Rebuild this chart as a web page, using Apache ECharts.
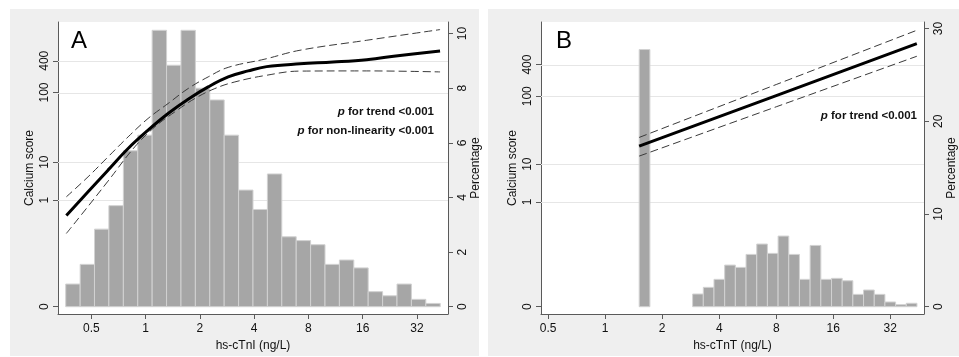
<!DOCTYPE html>
<html>
<head>
<meta charset="utf-8">
<script src="https://cdn.jsdelivr.net/npm/echarts@6/dist/echarts.min.js"></script>
<style>
  html, body { margin: 0; padding: 0; background: #fff; }
  #chart { width: 959px; height: 357px; }
</style>
</head>
<body>
<div id="chart"></div>
<script>
// x ticks (ng/L, log2 axis) and left / right tick labels
const xTicks = [0.5, 1, 2, 4, 8, 16, 32];
const cacTicks = [0, 1, 10, 100, 400];
const pctTicksA = [0, 2, 4, 6, 8, 10];
const pctTicksB = [0, 10, 20, 30];

// panel A: hs-cTnI histogram, bin edges (ng/L) and percent per bin
const histAEdges = [0.360, 0.433, 0.520, 0.625, 0.752, 0.904, 1.086, 1.306, 1.570, 1.887, 2.268, 2.726, 3.277, 3.939,
  4.735, 5.691, 6.841, 8.223, 9.884, 11.88, 14.28, 17.16, 20.63, 24.80, 29.81, 35.83, 43.07];
const histAPct = [0.83, 1.55, 2.84, 3.70, 5.71, 6.28, 10.12, 8.84, 10.12, 8.0, 7.57, 6.28, 4.27, 3.56,
  4.86, 2.56, 2.42, 2.27, 1.55, 1.71, 1.42, 0.55, 0.40, 0.83, 0.27, 0.12];

// panel A: spline fit of calcium score with 95% CI
const fitAX = [0.363, 0.479, 0.618, 0.799, 1.031, 1.332, 1.720, 2.222, 2.869, 3.705, 4.69, 7.18, 10.94, 16.84, 25.77, 42.98];
const fitAY = [0.81, 1.90, 6.68, 16.0, 29.5, 50.8, 80.6, 128, 198, 257, 310, 350, 378, 420, 505, 613];
const upAX = [0.363, 0.479, 0.618, 0.799, 1.031, 1.332, 1.720, 2.222, 2.869, 4.589, 7.18, 16.84, 42.98];
const upAY = [1.32, 4.69, 12.0, 23.6, 43.2, 70.2, 119, 198, 300, 430, 632, 975, 1550];
const loAX = [0.363, 0.479, 0.618, 0.870, 1.124, 1.451, 1.874, 2.420, 3.125, 4.589, 7.18, 16.84, 42.98];
const loAY = [0.61, 0.92, 3.69, 16.9, 32.8, 53.5, 82.4, 119, 159, 210, 255, 257, 246];

// panel B: hs-cTnT histogram
const histBEdges = [1.512, 1.722, 1.961, 2.233, 2.543, 2.895, 3.297, 3.754, 4.275, 4.868, 5.543, 6.312, 7.187, 8.184,
  9.319, 10.61, 12.08, 13.76, 15.67, 17.84, 20.31, 23.13, 26.34, 29.99, 34.15, 38.89, 44.28];
const histBPct = [27.74, 0, 0, 0, 0, 1.37, 2.09, 2.95, 4.49, 4.24, 5.64, 6.76, 5.75, 7.62, 5.64, 2.95, 6.61, 2.95,
  3.06, 2.80, 1.33, 1.80, 1.33, 0.51, 0.22, 0.37];

// panel B: linear fit with 95% CI
const fitBX = [1.511, 8, 44.2];
const fitBY = [18.8, 103, 998];
const upBY = [25.3, 167, 1782];
const loBY = [13.3, 70.5, 574];

// where the calcium score labels sit on each panel's scale
const cacPosA = [0, 3.903, 5.293, 7.842, 9.005];
const cacPosB = [0, 11.315, 15.377, 22.705, 26.121];

const FONT = '"Liberation Sans", Arial, sans-serif';
const AXIS_COLOR = '#5a5a5a';

function cacToPos(c, pos) {
  const L = cacTicks.map(t => Math.log1p(t));
  const v = Math.log1p(c);
  let i = 0;
  while (i < L.length - 2 && v > L[i + 1]) i++;
  return pos[i] + (v - L[i]) / (L[i + 1] - L[i]) * (pos[i + 1] - pos[i]);
}

function xAxis(grid, min, max, name) {
  const vals = xTicks.map(Math.log2);
  return {
    type: 'value', gridIndex: grid, min, max,
    name, nameLocation: 'middle', nameGap: 21,
    nameTextStyle: { color: '#111', fontSize: 12, fontFamily: FONT },
    axisLine: { show: true, onZero: false, lineStyle: { color: AXIS_COLOR, width: 1 } },
    axisTick: { show: true, customValues: vals, length: 5, lineStyle: { color: AXIS_COLOR } },
    axisLabel: {
      customValues: vals, margin: 9, color: '#111', fontSize: 12, fontFamily: FONT,
      formatter: v => String(Math.round(Math.pow(2, v) * 100) / 100)
    },
    splitLine: { show: false }
  };
}

function leftAxis(grid, min, max, pos) {
  return {
    type: 'value', gridIndex: grid, position: 'left', min, max,
    name: 'Calcium score', nameLocation: 'middle', nameGap: 22, nameRotate: 90,
    nameTextStyle: { color: '#111', fontSize: 12, fontFamily: FONT },
    axisLine: { show: true, onZero: false, lineStyle: { color: AXIS_COLOR } },
    axisTick: { show: true, customValues: pos, length: 5, lineStyle: { color: AXIS_COLOR } },
    axisLabel: {
      customValues: pos, rotate: 90, margin: 7, color: '#111', fontSize: 12, fontFamily: FONT,
      formatter: v => {
        let k = 0;
        pos.forEach((p, i) => { if (Math.abs(p - v) < Math.abs(pos[k] - v)) k = i; });
        return String(cacTicks[k]);
      }
    },
    splitLine: { show: false }
  };
}

function rightAxis(grid, min, max, ticks) {
  return {
    type: 'value', gridIndex: grid, position: 'right', min, max,
    name: 'Percentage', nameLocation: 'middle', nameGap: 22, nameRotate: 90,
    nameTextStyle: { color: '#111', fontSize: 12, fontFamily: FONT },
    axisLine: { show: true, onZero: false, lineStyle: { color: AXIS_COLOR } },
    axisTick: { show: true, customValues: ticks, length: 5, lineStyle: { color: AXIS_COLOR } },
    axisLabel: { customValues: ticks, rotate: 90, margin: 9, color: '#111', fontSize: 12, fontFamily: FONT },
    splitLine: { show: false }
  };
}

function histSeries(edges, pct, xi, yi) {
  return {
    type: 'custom', xAxisIndex: xi, yAxisIndex: yi, z: 2, silent: true,
    encode: { x: [0, 1], y: 2 },
    data: pct.map((p, i) => [Math.log2(edges[i]), Math.log2(edges[i + 1]), p]).filter(d => d[2] > 0),
    renderItem(params, api) {
      const a = api.coord([api.value(0), api.value(2)]);
      const b = api.coord([api.value(1), 0]);
      return {
        type: 'rect',
        shape: { x: a[0], y: a[1], width: b[0] - a[0], height: b[1] - a[1] },
        style: { fill: '#a6a6a6', stroke: '#d2d2d2', lineWidth: 1 }
      };
    }
  };
}

function curve(xs, ys, pos, xi, yi, dashed, smooth) {
  return {
    type: 'line', xAxisIndex: xi, yAxisIndex: yi, z: 3, symbol: 'none', silent: true,
    smooth: smooth,
    data: xs.map((x, i) => [Math.log2(x), cacToPos(ys[i], pos)]),
    lineStyle: dashed
      ? { color: '#3a3a3a', width: 1, type: [8, 4] }
      : { color: '#000', width: 3 }
  };
}

// faint horizontal rules at the calcium score ticks (across the whole plot)
function gridLines(pos, xi, yi, xMin) {
  return {
    type: 'custom', xAxisIndex: xi, yAxisIndex: yi, z: 1, silent: true,
    encode: { x: 0, y: 1 },
    data: pos.slice(1).map(v => [xMin, v]),
    renderItem(params, api) {
      const cs = params.coordSys;
      const y = Math.round(api.coord([api.value(0), api.value(1)])[1]) + 0.5;
      return {
        type: 'line',
        shape: { x1: cs.x, y1: y, x2: cs.x + cs.width, y2: y },
        style: { stroke: '#e6e6e6', lineWidth: 1 }
      };
    }
  };
}

const pStyle = {
  p: { fontStyle: 'italic', fontWeight: 'bold', fontSize: 11.5, fontFamily: FONT, fill: '#111' }
};

function note(x, y, text) {
  return {
    type: 'text', x, y, z: 100, silent: true,
    style: {
      text, rich: pStyle, fill: '#111', align: 'right', verticalAlign: 'middle',
      font: 'bold 11.5px ' + FONT
    }
  };
}

const chart = echarts.init(document.getElementById('chart'));
chart.setOption({
  animation: false,
  backgroundColor: '#fff',
  graphic: [
    { type: 'rect', z: -100, shape: { x: 10, y: 9, width: 469, height: 347 }, style: { fill: '#efefef' } },
    { type: 'rect', z: -100, shape: { x: 488, y: 9, width: 480, height: 347 }, style: { fill: '#efefef' } },
    { type: 'text', x: 71, y: 29, z: 100, style: { text: 'A', font: '24px ' + FONT, fill: '#000', verticalAlign: 'top' } },
    { type: 'text', x: 556, y: 29, z: 100, style: { text: 'B', font: '24px ' + FONT, fill: '#000', verticalAlign: 'top' } },
    note(434, 112, '{p|p} for trend <0.001'),
    note(434, 131, '{p|p} for non-linearity <0.001'),
    note(917, 116, '{p|p} for trend <0.001')
  ],
  grid: [
    { left: 58, top: 22, width: 390, height: 292, show: true, backgroundColor: '#fff', borderWidth: 0 },
    { left: 541, top: 22, width: 389, height: 292, show: true, backgroundColor: '#fff', borderWidth: 0 }
  ],
  xAxis: [
    xAxis(0, -1.616, 5.572, 'hs-cTnI (ng/L)'),
    xAxis(1, -1.126, 5.592, 'hs-cTnT (ng/L)')
  ],
  yAxis: [
    leftAxis(0, -0.267, 10.424, cacPosA),
    rightAxis(0, -0.267, 10.424, pctTicksA),
    leftAxis(1, -0.787, 30.71, cacPosB),
    rightAxis(1, -0.787, 30.71, pctTicksB)
  ],
  series: [
    gridLines(cacPosA, 0, 0, -1.616),
    histSeries(histAEdges, histAPct, 0, 1),
    curve(upAX, upAY, cacPosA, 0, 0, true, 0.4),
    curve(loAX, loAY, cacPosA, 0, 0, true, 0.4),
    curve(fitAX, fitAY, cacPosA, 0, 0, false, 0.4),
    gridLines(cacPosB, 1, 2, -1.126),
    histSeries(histBEdges, histBPct, 1, 3),
    curve(fitBX, upBY, cacPosB, 1, 2, true, false),
    curve(fitBX, loBY, cacPosB, 1, 2, true, false),
    curve(fitBX, fitBY, cacPosB, 1, 2, false, false)
  ]
});
</script>
</body>
</html>
